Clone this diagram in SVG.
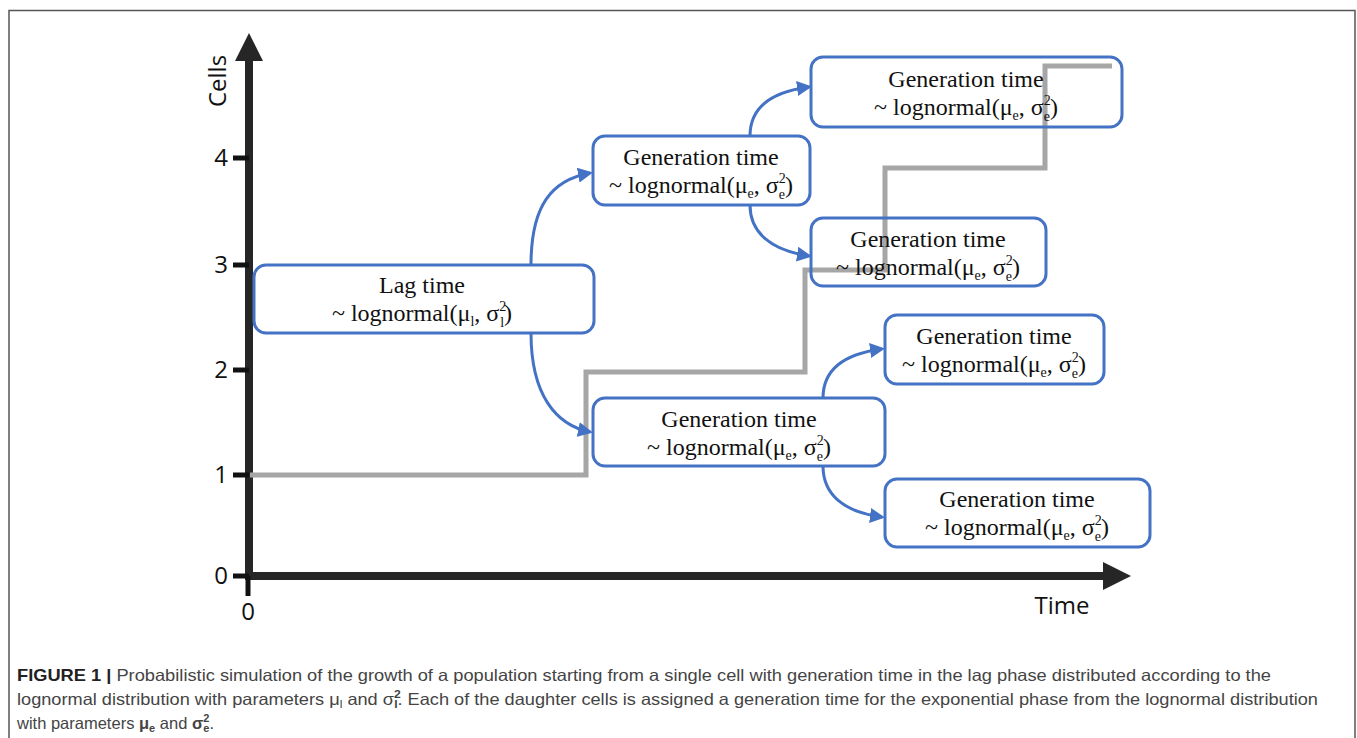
<svg xmlns="http://www.w3.org/2000/svg" width="1357" height="738" viewBox="0 0 1357 738">
<style>
.box{fill:none;stroke:#4472c4;stroke-width:3}
.t{font-family:"Liberation Serif","DejaVu Serif",serif;font-size:24px;fill:#111;text-anchor:middle}
.s{font-size:14px}
.ax{font-family:"Open Sans","DejaVu Sans",sans-serif;font-size:24px;fill:#111}
.arr{fill:none;stroke:#4472c4;stroke-width:3;marker-end:url(#ah)}
.cap{font-family:"Liberation Sans","Arial",sans-serif;font-size:16.5px;fill:#444}
</style>
<defs>
<marker id="ah" viewBox="0 0 10 10" refX="8" refY="5" markerWidth="5" markerHeight="5" orient="auto" markerUnits="strokeWidth">
<path d="M0,0 L10,5 L0,10 z" fill="#4472c4"/>
</marker>
</defs>
<rect x="0" y="0" width="1357" height="738" fill="#fff"/>
<rect x="9" y="10.5" width="1346" height="740" fill="none" stroke="#555" stroke-width="1.5"/>

<g id="axes">
<line x1="249" y1="580" x2="249" y2="58" stroke="#262626" stroke-width="8"/>
<polygon points="249,33 235,61 263,61" fill="#262626"/>
<line x1="245" y1="576" x2="1106" y2="576" stroke="#262626" stroke-width="8"/>
<polygon points="1131,576 1103,562 1103,590" fill="#262626"/>
<line x1="248" y1="576" x2="248" y2="596" stroke="#111" stroke-width="5"/>
<g stroke="#111" stroke-width="5">
<line x1="233" y1="158" x2="249" y2="158"/>
<line x1="233" y1="265" x2="249" y2="265"/>
<line x1="233" y1="370" x2="249" y2="370"/>
<line x1="233" y1="475" x2="249" y2="475"/>
<line x1="233" y1="576" x2="249" y2="576"/>
</g>
<g class="ax" text-anchor="end">
<text x="228" y="166">4</text>
<text x="228" y="273">3</text>
<text x="228" y="378">2</text>
<text x="228" y="483">1</text>
<text x="228" y="584">0</text>
</g>
<text class="ax" x="248" y="620" text-anchor="middle">0</text>
<text class="ax" x="1062" y="614" text-anchor="middle">Time</text>
<text class="ax" transform="translate(226,81) rotate(-90)" text-anchor="middle">Cells</text>
</g>

<g id="population">
<polyline points="250,475 586,475 586,372 805,372 805,270 885,270 885,168 1045,168 1045,66 1112,66" fill="none" stroke="#a6a6a6" stroke-width="5" stroke-linejoin="miter"/>
</g>

<g id="connectors">
<path class="arr" d="M531,265 C531,205 552,180 590,173"/>
<path class="arr" d="M531,333 C531,395 556,425 590,432"/>
<path class="arr" d="M750,136 C750,108 770,92 809,87"/>
<path class="arr" d="M750,205 C750,232 770,250 809,256"/>
<path class="arr" d="M823,398 C823,370 843,354 882,349"/>
<path class="arr" d="M823,466 C823,494 843,512 882,517"/>
</g>

<g id="lag">
<rect class="box" x="254" y="265" width="340" height="68" rx="12"/>
<text class="t" x="422" y="293">Lag time</text>
<text class="t" x="422" y="321">~ lognormal(μ<tspan class="s" dy="5">l</tspan><tspan dy="-5">, σ</tspan><tspan class="s" dy="-10">2</tspan><tspan class="s" dx="-6" dy="16">l</tspan><tspan dy="-6">)</tspan></text>
</g>

<g id="genA">
<rect class="box" x="593" y="136" width="217" height="69" rx="12"/>
<text class="t" x="701" y="165">Generation time</text>
<text class="t" x="701" y="193">~ lognormal(μ<tspan class="s" dy="5">e</tspan><tspan dy="-5">, σ</tspan><tspan class="s" dy="-10">2</tspan><tspan class="s" dx="-7" dy="16">e</tspan><tspan dy="-6">)</tspan></text>
</g>

<g id="genB">
<rect class="box" x="811" y="57" width="311" height="70" rx="12"/>
<text class="t" x="966" y="87">Generation time</text>
<text class="t" x="966" y="115">~ lognormal(μ<tspan class="s" dy="5">e</tspan><tspan dy="-5">, σ</tspan><tspan class="s" dy="-10">2</tspan><tspan class="s" dx="-7" dy="16">e</tspan><tspan dy="-6">)</tspan></text>
</g>

<g id="genC">
<rect class="box" x="811" y="218" width="235" height="68" rx="12"/>
<text class="t" x="928" y="247">Generation time</text>
<text class="t" x="928" y="275">~ lognormal(μ<tspan class="s" dy="5">e</tspan><tspan dy="-5">, σ</tspan><tspan class="s" dy="-10">2</tspan><tspan class="s" dx="-7" dy="16">e</tspan><tspan dy="-6">)</tspan></text>
</g>

<g id="genD">
<rect class="box" x="593" y="398" width="292" height="68" rx="12"/>
<text class="t" x="739" y="427">Generation time</text>
<text class="t" x="739" y="455">~ lognormal(μ<tspan class="s" dy="5">e</tspan><tspan dy="-5">, σ</tspan><tspan class="s" dy="-10">2</tspan><tspan class="s" dx="-7" dy="16">e</tspan><tspan dy="-6">)</tspan></text>
</g>

<g id="genE">
<rect class="box" x="885" y="315" width="219" height="69" rx="12"/>
<text class="t" x="994" y="344">Generation time</text>
<text class="t" x="994" y="372">~ lognormal(μ<tspan class="s" dy="5">e</tspan><tspan dy="-5">, σ</tspan><tspan class="s" dy="-10">2</tspan><tspan class="s" dx="-7" dy="16">e</tspan><tspan dy="-6">)</tspan></text>
</g>

<g id="genF">
<rect class="box" x="885" y="479" width="265" height="68" rx="12"/>
<text class="t" x="1017" y="507">Generation time</text>
<text class="t" x="1017" y="535">~ lognormal(μ<tspan class="s" dy="5">e</tspan><tspan dy="-5">, σ</tspan><tspan class="s" dy="-10">2</tspan><tspan class="s" dx="-7" dy="16">e</tspan><tspan dy="-6">)</tspan></text>
</g>

<g id="caption">
<text class="cap" x="17" y="681" textLength="1254" lengthAdjust="spacingAndGlyphs"><tspan font-weight="bold" fill="#222">FIGURE 1 |</tspan> Probabilistic simulation of the growth of a population starting from a single cell with generation time in the lag phase distributed according to the</text>
<text class="cap" x="17" y="705" textLength="1301" lengthAdjust="spacingAndGlyphs">lognormal distribution with parameters μ<tspan font-size="11" dy="3">l</tspan><tspan dy="-3"> and σ</tspan><tspan font-size="11" font-weight="bold" dy="-7">2</tspan><tspan font-size="11" font-weight="bold" dx="-6" dy="10">l</tspan><tspan dy="-3">. Each of the daughter cells is assigned a generation time for the exponential phase from the lognormal distribution</tspan></text>
<text class="cap" x="17" y="729">with parameters <tspan font-weight="bold">μ</tspan><tspan font-size="11" font-weight="bold" dy="3">e</tspan><tspan dy="-3"> and </tspan><tspan font-weight="bold">σ</tspan><tspan font-size="11" font-weight="bold" dy="-7">2</tspan><tspan font-size="11" font-weight="bold" dx="-6" dy="10">e</tspan><tspan dy="-3">.</tspan></text>
</g>
</svg>
